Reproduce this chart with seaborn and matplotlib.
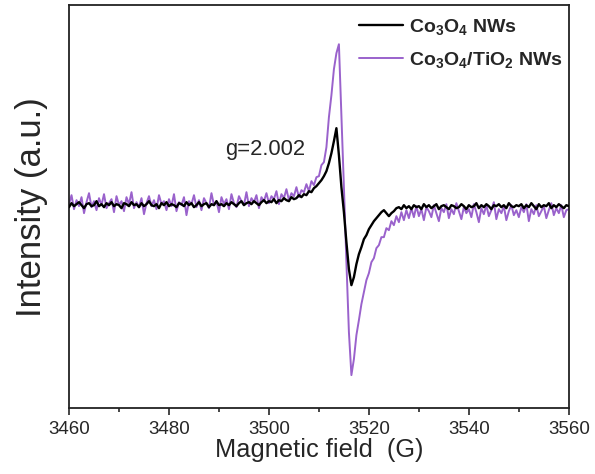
import numpy as np
import pandas as pd
import matplotlib
matplotlib.use("Agg")
import matplotlib.pyplot as plt
from matplotlib.ticker import MultipleLocator
import seaborn as sns

# field sweep (G), one reading every 0.5 G
FIELD_START = 3460
FIELD_STOP = 3560
FIELD_STEP = 0.5

# Co3O4 NWs signal (a.u.)
co3o4 = [
    0, 4, 1, 3, 5, 2, -1, 3, 4, 1, 2, 6, 1, 3, 0, 4, 2, 5, 1, 3,
    2, -1, 4, 3, 1, 5, 2, 3, 0, 4, 1, 3, 6, 2, 1, 3, -1, 4, 2, 5,
    1, 3, 2, 0, 4, 3, 1, 5, 2, 4, 0, 2, 5, 1, 3, 4, 0, 3, 2, 6,
    2, 3, 1, 4, 2, 5, 3, 1, 4, 6, 2, 4, 5, 3, 6, 4, 2, 5, 7, 4,
    6, 5, 8, 4, 7, 6, 9, 7, 6, 10, 8, 9, 12, 10, 13, 12, 16, 15, 19, 21,
    24, 27, 31, 36, 44, 54, 66, 79, 52, 20, -5, -35, -62, -78, -70, -57, -47, -40, -32, -28,
    -22, -18, -14, -11, -8, -5, -3, -6, -9, -6, -4, -1, 0, -2, 2, -1, 1, -2, 2, 0,
    1, -2, 3, 0, 2, -1, 1, 3, -2, 1, 2, 0, -2, 2, 1, -1, 0, 3, 1, -2,
    2, 0, 1, 4, -1, 2, 0, 3, 1, -2, 2, 1, 3, 0, 2, -1, 4, 1, 0, 2,
    1, 3, -1, 2, 0, 4, 1, -2, 3, 0, 2, 1, 4, -1, 2, 0, 3, 1, -1, 2,
    1,
]

# Co3O4/TiO2 NWs signal (a.u.)
co3o4_tio2 = [
    3, 12, -2, 7, 1, 10, -6, 5, 14, 0, 6, -3, 9, 2, 13, -1, 4, 8, -5, 11,
    2, 6, -4, 10, 3, 15, -1, 5, 0, 9, -7, 4, 11, 1, 7, -2, 12, 3, 6, -3,
    8, 1, 13, -4, 5, 2, 10, -8, 6, 3, 12, 0, 7, -3, 9, 4, -1, 14, 2, 6,
    -5, 10, 3, 8, -2, 13, 4, 0, 11, 6, 2, 15, 1, 9, 5, 12, -1, 10, 6, 14,
    4, 11, 8, 16, 3, 13, 9, 18, 7, 14, 11, 20, 10, 17, 15, 23, 16, 26, 22, 30,
    31, 42, 45, 60, 90, 112, 138, 154, 163, 92, 20, -55, -125, -168, -152, -128, -113, -97, -85, -73,
    -66, -55, -51, -41, -38, -30, -30, -21, -23, -14, -18, -9, -15, -5, -13, -3, -11, -1, -10, 1,
    -9, -2, -13, 0, -4, -10, 2, -6, -14, -1, -5, 3, -11, -2, -7, 4, -4, -12, 0, -6,
    -2, -10, 3, -5, -15, -1, -7, 2, -9, -3, 5, -12, -2, -6, 1, -13, -4, 2, -8, -3,
    -10, 0, -5, 3, -14, -2, -7, 2, -9, -4, 1, -11, -3, 4, -8, -1, -6, 2, -10, -3,
    -2,
]

LABELS = [r"Co$_3$O$_4$ NWs", r"Co$_3$O$_4$/TiO$_2$ NWs"]
COLORS = ["black", "#9a62cc"]


def main():
    sns.set_style("ticks")
    plt.rcParams["font.family"] = ["Liberation Sans", "DejaVu Sans"]
    plt.rcParams["mathtext.fontset"] = "custom"
    plt.rcParams["mathtext.rm"] = "Liberation Sans:bold"
    plt.rcParams["mathtext.bf"] = "Liberation Sans:bold"
    plt.rcParams["mathtext.default"] = "bf"

    field = np.arange(FIELD_START, FIELD_STOP + FIELD_STEP / 2, FIELD_STEP)
    df = pd.DataFrame({"field": field, LABELS[0]: co3o4, LABELS[1]: co3o4_tio2})

    fig = plt.figure(figsize=(5.95, 4.74), dpi=100)
    ax = fig.add_axes([0.116, 0.139, 0.84, 0.85])

    # black trace drawn on top of the purple one
    for lab, col, lw, z in zip(LABELS, COLORS, [1.7, 1.4], [3, 2]):
        sns.lineplot(data=df, x="field", y=lab, color=col, lw=lw, label=lab, ax=ax, zorder=z)

    ax.set_xlim(3460, 3560)
    ax.set_ylim(-201, 202)
    ax.xaxis.set_major_locator(MultipleLocator(20))
    ax.xaxis.set_minor_locator(MultipleLocator(10))
    ax.tick_params(axis="x", which="major", direction="out", length=5, width=1.2, labelsize=13.5, pad=4)
    ax.tick_params(axis="x", which="minor", direction="out", length=3, width=1.2)
    ax.set_yticks([])
    for s in ax.spines.values():
        s.set_visible(True)
        s.set_linewidth(1.3)
        s.set_color("#222222")

    ax.set_xlabel("Magnetic field  (G)", fontsize=18.3, labelpad=0)
    ax.set_ylabel("Intensity (a.u.)", fontsize=25, labelpad=15)

    ax.text(3491.2, 52, "g=2.002", fontsize=15.8)

    ax.legend(loc="upper right", bbox_to_anchor=(1.012, 1.0), frameon=False,
              handlelength=2.3, prop={"weight": "bold", "size": 14},
              borderaxespad=0.2, labelspacing=0.68, handletextpad=0.3)

    fig.savefig("out.png", dpi=100)


if __name__ == "__main__":
    main()
